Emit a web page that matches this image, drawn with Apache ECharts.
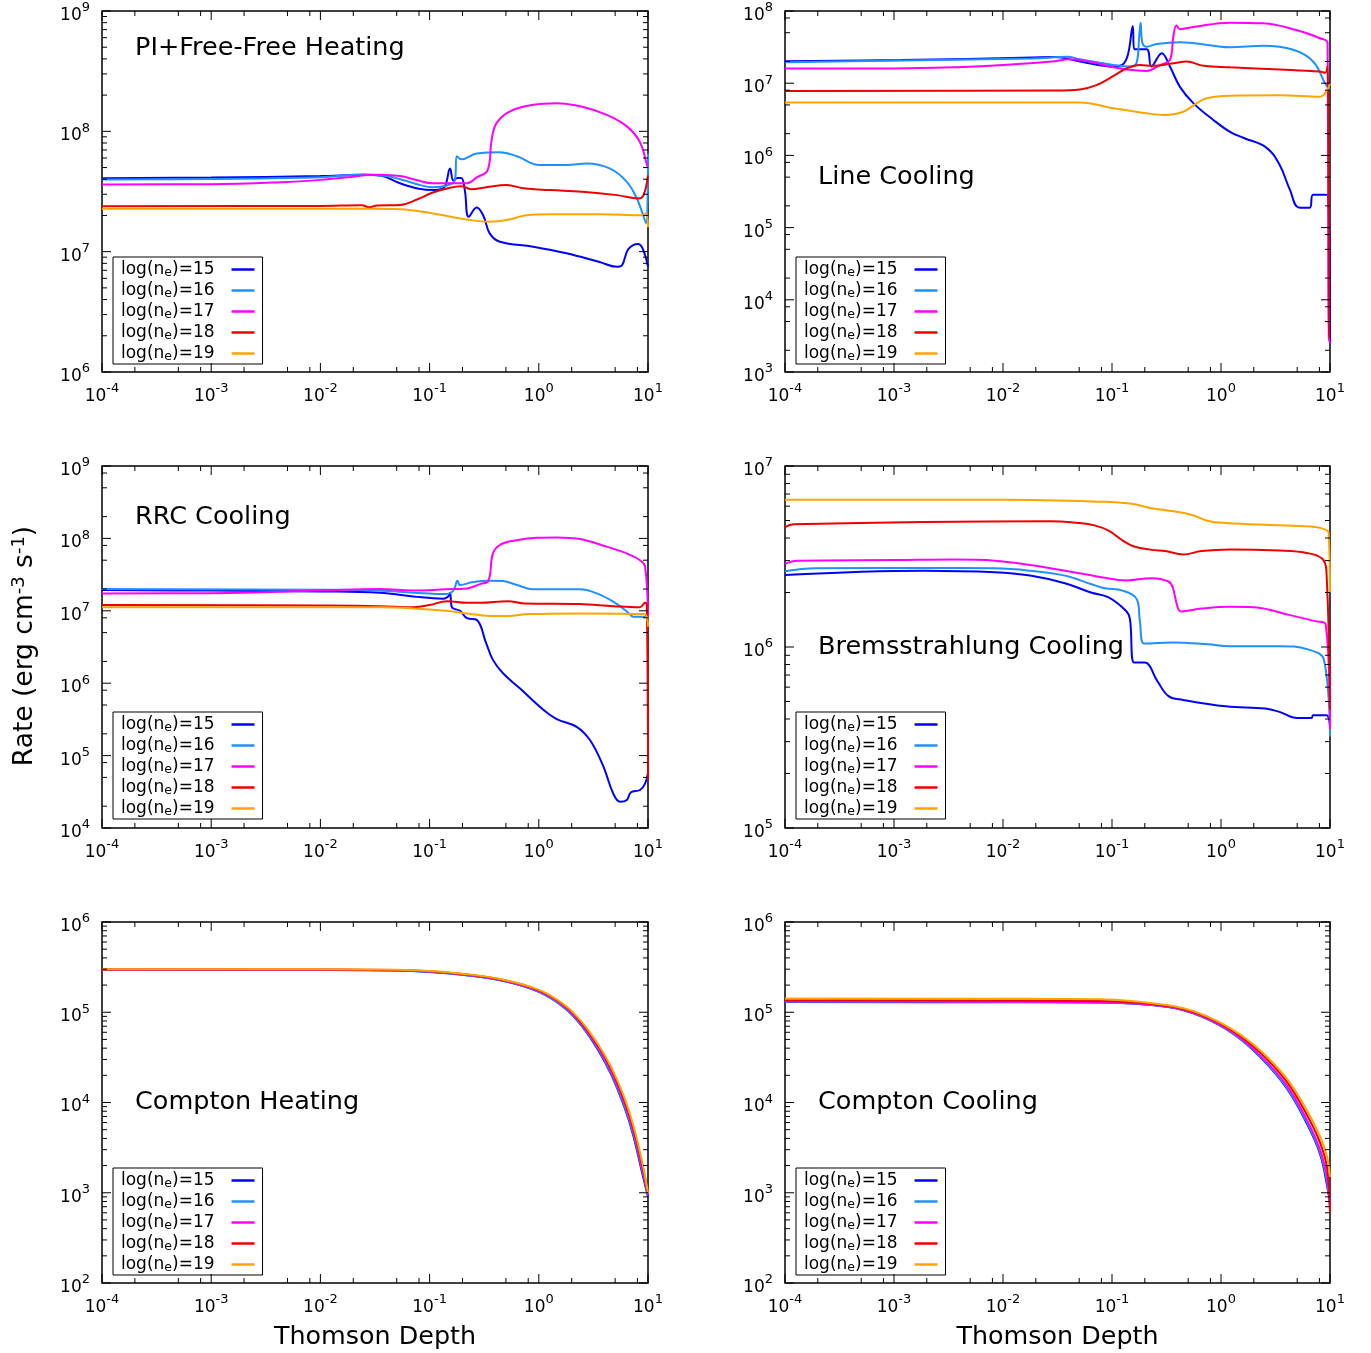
<!DOCTYPE html>
<html>
<head>
<meta charset="utf-8">
<script src="https://cdn.jsdelivr.net/npm/echarts@6/dist/echarts.min.js"></script>
<style>
html, body { margin: 0; padding: 0; background: #fff; }
#chart { width: 1371px; height: 1353px; }
</style>
</head>
<body>
<div id="chart"></div>
<script>
// series names and colours, one per electron density
const seriesNames = ['log(n_e)=15', 'log(n_e)=16', 'log(n_e)=17', 'log(n_e)=18', 'log(n_e)=19'];
const seriesColors = ['#0000ff', '#1e90ff', '#ff00ff', '#ee0000', '#ffa500'];

const tauRange = [1e-4, 10];
const sparseMinor = [2, 5, 8];
const fullMinor = [2, 3, 4, 5, 6, 7, 8, 9];

// PI + free-free heating, [tau, rate]
const piff15 = [[1e-4,4.08e7],[1e-3,4.13e7],[0.01,4.25e7],[0.025,4.36e7],[0.035,4.3e7],[0.0536,3.7e7],[0.08,3.33e7],[0.107,3.25e7],[0.135,3.4e7],[0.154,4.9e7],[0.165,3.9e7],[0.18,4.1e7],[0.195,4.1e7],[0.21,3.25e7],[0.228,1.95e7],[0.27,2.33e7],[0.31,2.0e7],[0.355,1.42e7],[0.44,1.21e7],[0.89,1.1e7],[1.79,9.7e6],[3.6,8.2e6],[5.2,7.5e6],[5.77,7.7e6],[6.6,1.05e7],[8.1,1.16e7],[8.9,1.07e7],[10,7.5e6]];
const piff16 = [[1e-4,3.98e7],[1e-3,4.02e7],[0.01,4.15e7],[0.025,4.38e7],[0.04,4.25e7],[0.0536,4.0e7],[0.08,3.6e7],[0.107,3.43e7],[0.144,3.55e7],[0.17,3.9e7],[0.178,6.2e7],[0.195,5.85e7],[0.27,6.55e7],[0.44,6.7e7],[0.63,6.2e7],[1.02,5.25e7],[1.79,5.25e7],[2.75,5.4e7],[4.5,4.9e7],[6.4,3.8e7],[8.0,2.7e7],[9.6,1.72e7],[10,6.5e7]];
const piff17 = [[1e-4,3.62e7],[1e-3,3.64e7],[0.005,3.8e7],[0.01,3.95e7],[0.02,4.2e7],[0.03,4.35e7],[0.0536,4.25e7],[0.0756,3.94e7],[0.107,3.7e7],[0.22,3.7e7],[0.27,4.14e7],[0.34,4.77e7],[0.37,8.5e7],[0.41,1.17e8],[0.54,1.46e8],[0.89,1.66e8],[1.45,1.71e8],[2.5,1.6e8],[4.2,1.37e8],[6.4,1.1e8],[8.4,8.2e7],[9.8,5.25e7],[10,5.0e7]];
const piff18 = [[1e-4,2.39e7],[0.01,2.4e7],[0.024,2.43e7],[0.028,2.34e7],[0.033,2.42e7],[0.0536,2.44e7],[0.0756,2.7e7],[0.107,3.1e7],[0.154,3.4e7],[0.195,3.5e7],[0.24,3.3e7],[0.33,3.43e7],[0.51,3.58e7],[0.72,3.36e7],[1.27,3.25e7],[2.5,3.15e7],[5.2,2.95e7],[8.2,2.77e7],[9.1,2.95e7],[10,4.3e7]];
const piff19 = [[1e-4,2.27e7],[0.03,2.27e7],[0.0536,2.25e7],[0.107,2.08e7],[0.22,1.85e7],[0.355,1.77e7],[0.51,1.83e7],[0.77,2.01e7],[1.27,2.05e7],[3.6,2.05e7],[9.0,2.01e7],[9.6,2.1e7],[10,1.6e7]];

// line cooling
const line15 = [[1e-4,2.02e7],[1.15e-3,2.09e7],[0.0187,2.27e7],[0.0298,2.3e7],[0.0508,2.0e7],[0.103,1.7e7],[0.127,1.85e7],[0.141,2.6e7],[0.155,6.2e7],[0.16,2.95e7],[0.208,2.95e7],[0.23,1.7e7],[0.286,2.6e7],[0.34,1.7e7],[0.42,8.9e6],[0.557,5.3e6],[0.85,3.1e6],[1.22,2.1e6],[1.62,1.74e6],[2.57,1.3e6],[3.4,7.7e5],[4.3,3.3e5],[5.16,1.9e5],[6.5,1.88e5],[7.0,2.85e5],[9.0,2.85e5],[9.6,2.8e5],[10,2.5e3]];
const line16 = [[1e-4,1.95e7],[0.0187,2.2e7],[0.039,2.32e7],[0.0508,2.14e7],[0.103,1.79e7],[0.145,1.7e7],[0.168,1.9e7],[0.178,4.65e7],[0.183,6.9e7],[0.19,3.6e7],[0.208,3.2e7],[0.257,3.5e7],[0.42,3.7e7],[0.85,3.3e7],[1.21,3.15e7],[2.45,3.3e7],[4.6,2.9e7],[7.0,2.0e7],[9.0,1.0e7],[10,8.0e6]];
const line17 = [[1e-4,1.6e7],[0.001,1.6e7],[0.005,1.69e7],[0.01,1.78e7],[0.03,2.02e7],[0.04,2.14e7],[0.0508,2.1e7],[0.075,1.88e7],[0.103,1.66e7],[0.208,1.48e7],[0.275,1.78e7],[0.34,2.1e7],[0.365,4.4e7],[0.39,6.3e7],[0.42,5.6e7],[0.557,6.0e7],[1.21,6.9e7],[2.45,6.75e7],[4.9,5.45e7],[8.1,4.2e7],[9.5,3.6e7],[9.75,3e3],[10,2.5e3]];
const line18 = [[1e-4,7.8e6],[0.03,7.9e6],[0.0508,8.2e6],[0.072,9.4e6],[0.103,1.26e7],[0.136,1.6e7],[0.18,1.79e7],[0.24,1.74e7],[0.365,1.89e7],[0.484,2.0e7],[0.69,1.74e7],[1.21,1.66e7],[3.5,1.55e7],[8.1,1.45e7],[9.0,1.4e7],[9.5,1.7e7],[9.8,3e3],[10,3e3]];
const line19 = [[1e-4,5.4e6],[0.03,5.4e6],[0.0508,5.4e6],[0.103,4.5e6],[0.208,3.83e6],[0.295,3.63e6],[0.45,4.03e6],[0.6,5.3e6],[0.74,6.2e6],[1.21,6.7e6],[3.5,6.8e6],[8.1,6.5e6],[9.4,8.0e6],[10,1.0e7]];

// RRC cooling
const rrc15 = [[1e-4,1.94e7],[0.001,1.9e7],[0.01,1.85e7],[0.035,1.78e7],[0.071,1.58e7],[0.133,1.47e7],[0.148,1.58e7],[0.154,1.78e7],[0.16,1.12e7],[0.19,1.0e7],[0.22,7.9e6],[0.27,7.5e6],[0.33,3.55e6],[0.38,2.1e6],[0.47,1.37e6],[0.67,8.5e5],[1.1,4.3e5],[1.46,3.2e5],[2.22,2.5e5],[2.94,1.64e5],[3.9,7.1e4],[4.8,3.0e4],[5.55,2.3e4],[6.4,2.44e4],[6.95,3.1e4],[8.45,3.35e4],[9.4,4.1e4],[10,5.8e4]];
const rrc16 = [[1e-4,2.0e7],[0.01,1.95e7],[0.035,1.9e7],[0.071,1.78e7],[0.14,1.7e7],[0.165,1.9e7],[0.18,2.6e7],[0.19,2.27e7],[0.25,2.5e7],[0.36,2.6e7],[0.47,2.57e7],[0.63,2.27e7],[0.89,1.98e7],[1.56,1.98e7],[2.38,1.98e7],[3.4,1.74e7],[4.8,1.34e7],[6.4,9.8e6],[7.35,8.3e6],[9.4,8.3e6],[10,1.0e7]];
const rrc17 = [[1e-4,1.74e7],[0.001,1.75e7],[0.01,1.9e7],[0.035,2.0e7],[0.071,1.9e7],[0.14,1.98e7],[0.22,2.04e7],[0.29,2.34e7],[0.345,2.6e7],[0.38,6.2e7],[0.44,8.1e7],[0.585,9.3e7],[0.955,1.02e8],[1.46,1.03e8],[2.38,9.8e7],[4.17,7.7e7],[6.4,6.2e7],[8.45,5.0e7],[9.4,4.1e7],[10,8e6]];
const rrc18 = [[1e-4,1.2e7],[0.01,1.18e7],[0.035,1.16e7],[0.071,1.12e7],[0.1,1.2e7],[0.145,1.36e7],[0.22,1.29e7],[0.29,1.29e7],[0.52,1.36e7],[0.74,1.26e7],[2.38,1.24e7],[4.8,1.16e7],[8.45,1.12e7],[9.4,1.29e7],[9.75,1.2e7],[10,4.6e4]];
const rrc19 = [[1e-4,1.12e7],[0.01,1.12e7],[0.035,1.12e7],[0.071,1.08e7],[0.14,1.0e7],[0.22,9.2e6],[0.36,8.5e6],[0.52,8.5e6],[0.81,9.0e6],[2.38,9.2e6],[9.2,9.0e6],[10,6e6]];

// bremsstrahlung cooling
const brems15 = [[1e-4,2.5e6],[0.0019,2.64e6],[0.0084,2.59e6],[0.0177,2.48e6],[0.037,2.25e6],[0.064,2.0e6],[0.093,1.88e6],[0.135,1.58e6],[0.146,1.43e6],[0.16,8.2e5],[0.2,8.2e5],[0.26,6.5e5],[0.33,5.35e5],[0.45,5.1e5],[1.11,4.7e5],[2.55,4.57e5],[3.44,4.38e5],[5.0,4.05e5],[6.76,4.05e5],[7.0,4.2e5],[9.27,4.2e5],[10,3.56e5]];
const brems16 = [[1e-4,2.62e6],[1.9e-4,2.72e6],[0.0019,2.73e6],[0.0084,2.72e6],[0.0177,2.64e6],[0.037,2.48e6],[0.064,2.23e6],[0.086,2.11e6],[0.125,2.05e6],[0.17,1.82e6],[0.18,1.4e6],[0.197,1.045e6],[0.36,1.06e6],[0.76,1.035e6],[1.2,1.01e6],[3.44,1.01e6],[6.26,9.7e5],[8.8,8.5e5],[10,3.2e5]];
const brems17 = [[1e-4,2.88e6],[1.3e-4,3.0e6],[0.001,3.02e6],[0.0036,3.04e6],[0.0084,3.0e6],[0.0177,2.84e6],[0.037,2.64e6],[0.08,2.43e6],[0.135,2.33e6],[0.23,2.4e6],[0.33,2.3e6],[0.36,2.14e6],[0.4,1.66e6],[0.43,1.57e6],[0.66,1.63e6],[1.2,1.67e6],[2.0,1.66e6],[4.3,1.5e6],[7.3,1.39e6],[9.1,1.34e6],[10,3.5e5]];
const brems18 = [[1e-4,4.6e6],[1.2e-4,4.77e6],[0.026,4.95e6],[0.05,4.84e6],[0.069,4.7e6],[0.093,4.4e6],[0.125,3.88e6],[0.157,3.6e6],[0.23,3.44e6],[0.31,3.39e6],[0.45,3.24e6],[0.66,3.39e6],[1.2,3.46e6],[3.44,3.41e6],[6.26,3.3e6],[8.5,3.07e6],[9.27,2.63e6],[10,4.5e5]];
const brems19 = [[1e-4,6.5e6],[0.01,6.5e6],[0.08,6.35e6],[0.146,6.2e6],[0.247,5.8e6],[0.31,5.7e6],[0.524,5.4e6],[0.76,4.97e6],[1.11,4.84e6],[3.44,4.7e6],[7.3,4.6e6],[9.1,4.45e6],[9.7,4.3e6],[10,2.0e6]];

// Compton heating, sampled on one tau grid
const comphTau = [1e-4, 0.01, 0.05, 0.1, 0.2, 0.43, 0.98, 1.7, 2.44, 3.5, 4.64, 6.1, 7.3, 8.8, 10];
const comph15 = [2.95e5, 2.94e5, 2.9e5, 2.8e5, 2.6e5, 2.28e5, 1.7e5, 1.13e5, 7.2e4, 3.8e4, 2.0e4, 8.8e3, 4.4e3, 1.7e3, 9.0e2];
const comph16 = [2.96e5, 2.95e5, 2.91e5, 2.81e5, 2.61e5, 2.29e5, 1.71e5, 1.14e5, 7.3e4, 3.9e4, 2.05e4, 9.1e3, 4.6e3, 1.8e3, 9.3e2];
const comph17 = [2.97e5, 2.96e5, 2.92e5, 2.83e5, 2.63e5, 2.31e5, 1.74e5, 1.17e5, 7.5e4, 4.05e4, 2.15e4, 9.7e3, 4.9e3, 1.9e3, 9.5e2];
const comph18 = [2.98e5, 2.98e5, 2.94e5, 2.85e5, 2.65e5, 2.33e5, 1.77e5, 1.2e5, 7.75e4, 4.25e4, 2.3e4, 1.05e4, 5.3e3, 2.1e3, 1.0e3];
const comph19 = [2.99e5, 2.99e5, 2.95e5, 2.86e5, 2.67e5, 2.35e5, 1.79e5, 1.22e5, 7.98e4, 4.4e4, 2.42e4, 1.12e4, 5.7e3, 2.24e3, 1.0e3];

// Compton cooling
const compcTau = [1e-4, 0.01, 0.078, 0.318, 0.64, 1.3, 2.28, 4.0, 6.1, 8.1, 9.4, 10];
const compc15 = [1.3e5, 1.29e5, 1.28e5, 1.15e5, 9.1e4, 5.75e4, 3.2e4, 1.44e4, 5.9e3, 2.7e3, 1.2e3, 7.6e2];
const compc16 = [1.31e5, 1.3e5, 1.28e5, 1.15e5, 9.15e4, 5.8e4, 3.25e4, 1.47e4, 6.1e3, 2.8e3, 1.3e3, 7e2];
const compc17 = [1.32e5, 1.31e5, 1.29e5, 1.16e5, 9.25e4, 5.9e4, 3.35e4, 1.55e4, 6.5e3, 3.0e3, 1.45e3, 6.5e2];
const compc18 = [1.36e5, 1.35e5, 1.33e5, 1.18e5, 9.5e4, 6.15e4, 3.6e4, 1.7e4, 7.4e3, 3.6e3, 1.9e3, 6e2];
const compc19 = [1.42e5, 1.41e5, 1.39e5, 1.2e5, 9.7e4, 6.35e4, 3.8e4, 1.85e4, 8.3e3, 4.2e3, 2.5e3, 1.5e3];

const zip = (xs, ys) => xs.map((x, i) => [x, ys[i]]);

const panels = [
    { title: 'PI+Free-Free Heating', yRange: [1e6, 1e9], yMinor: fullMinor, lines: [piff15, piff16, piff17, piff18, piff19],
      grid: { left: 102, top: 11, width: 546, height: 361 }, titlePos: [135, 48] },
    { title: 'Line Cooling', yRange: [1e3, 1e8], yMinor: sparseMinor, lines: [line15, line16, line17, line18, line19],
      grid: { left: 785, top: 11, width: 545, height: 361 }, titlePos: [818, 177] },
    { title: 'RRC Cooling', yRange: [1e4, 1e9], yMinor: sparseMinor, lines: [rrc15, rrc16, rrc17, rrc18, rrc19],
      grid: { left: 102, top: 466, width: 546, height: 362 }, titlePos: [135, 517] },
    { title: 'Bremsstrahlung Cooling', yRange: [1e5, 1e7], yMinor: fullMinor, lines: [brems15, brems16, brems17, brems18, brems19],
      grid: { left: 785, top: 466, width: 545, height: 362 }, titlePos: [818, 647] },
    { title: 'Compton Heating', yRange: [1e2, 1e6], yMinor: fullMinor,
      lines: [comph15, comph16, comph17, comph18, comph19].map(v => zip(comphTau, v)),
      grid: { left: 102, top: 922, width: 546, height: 361 }, titlePos: [135, 1102], xName: true },
    { title: 'Compton Cooling', yRange: [1e2, 1e6], yMinor: fullMinor,
      lines: [compc15, compc16, compc17, compc18, compc19].map(v => zip(compcTau, v)),
      grid: { left: 785, top: 922, width: 545, height: 361 }, titlePos: [818, 1102], xName: true }
];

const FONT = 'DejaVu Sans';
const powRich = {
    b: { fontSize: 17, fontFamily: FONT, color: '#000', padding: [9, 0, 0, 0] },
    s: { fontSize: 13, fontFamily: FONT, color: '#000', padding: [0, 0, 6, 0] }
};
const powLabel = v => '{b|10}{s|' + Math.round(Math.log10(v)) + '}';

// decade ticks (long) and minor ticks (short) for a log range
function logTicks(range, mults) {
    const lo = Math.round(Math.log10(range[0]));
    const hi = Math.round(Math.log10(range[1]));
    const out = [];
    for (let e = lo; e <= hi; e++) {
        out.push([Math.pow(10, e), 9]);
        if (e < hi) mults.forEach(m => out.push([m * Math.pow(10, e), 5]));
    }
    return out;
}

const tickStyle = { stroke: '#000', lineWidth: 1 };

function xTickSeries(i, yr) {
    return {
        type: 'custom', xAxisIndex: i, yAxisIndex: i, silent: true, clip: false, z: 6,
        encode: { x: 0, y: 1 },
        data: logTicks(tauRange, sparseMinor).map(([v, len]) => [v, yr[0], len, yr[1]]),
        renderItem: (params, api) => {
            const b = api.coord([api.value(0), api.value(1)]);
            const t = api.coord([api.value(0), api.value(3)]);
            const len = api.value(2);
            return { type: 'group', children: [
                { type: 'line', shape: { x1: b[0], y1: b[1], x2: b[0], y2: b[1] - len }, style: tickStyle },
                { type: 'line', shape: { x1: t[0], y1: t[1], x2: t[0], y2: t[1] + len }, style: tickStyle }
            ] };
        }
    };
}

function yTickSeries(i, yr, mults) {
    return {
        type: 'custom', xAxisIndex: i, yAxisIndex: i, silent: true, clip: false, z: 6,
        encode: { x: 0, y: 1 },
        data: logTicks(yr, mults).map(([v, len]) => [tauRange[0], v, len, tauRange[1]]),
        renderItem: (params, api) => {
            const l = api.coord([api.value(0), api.value(1)]);
            const r = api.coord([api.value(3), api.value(1)]);
            const len = api.value(2);
            return { type: 'group', children: [
                { type: 'line', shape: { x1: l[0], y1: l[1], x2: l[0] + len, y2: l[1] }, style: tickStyle },
                { type: 'line', shape: { x1: r[0], y1: r[1], x2: r[0] - len, y2: r[1] }, style: tickStyle }
            ] };
        }
    };
}

const grids = [], xAxes = [], yAxes = [], series = [], legends = [], graphics = [];

panels.forEach((p, i) => {
    grids.push(Object.assign({ show: true, borderColor: '#000', borderWidth: 1.5, backgroundColor: 'transparent' }, p.grid));
    xAxes.push({
        type: 'log', logBase: 10, gridIndex: i, min: tauRange[0], max: tauRange[1],
        axisLine: { show: false }, axisTick: { show: false }, splitLine: { show: false },
        axisLabel: { formatter: powLabel, rich: powRich, margin: 7, showMinLabel: true, showMaxLabel: true },
        name: p.xName ? 'Thomson Depth' : '', nameLocation: 'middle', nameGap: 42,
        nameTextStyle: { fontSize: 25.4, fontFamily: FONT, color: '#000' }
    });
    yAxes.push({
        type: 'log', logBase: 10, gridIndex: i, min: p.yRange[0], max: p.yRange[1],
        axisLine: { show: false }, axisTick: { show: false }, splitLine: { show: false },
        axisLabel: { formatter: powLabel, rich: powRich, margin: 12, showMinLabel: true, showMaxLabel: true }
    });
    p.lines.forEach((d, k) => {
        series.push({
            type: 'line', name: seriesNames[k], xAxisIndex: i, yAxisIndex: i,
            data: d, symbol: 'none', showSymbol: false, smooth: 0.4,
            color: seriesColors[k], lineStyle: { width: 2, color: seriesColors[k] },
            z: 3 + k * 0.1
        });
    });
    series.push(xTickSeries(i, p.yRange));
    series.push(yTickSeries(i, p.yRange, p.yMinor));
    legends.push({
        left: p.grid.left + 11, top: p.grid.top + 246,
        orient: 'vertical', align: 'right', icon: 'rect',
        itemWidth: 23, itemHeight: 2.5, itemGap: 2,
        padding: [3, 8, 1, 8],
        borderColor: '#000', borderWidth: 1, borderRadius: 0, backgroundColor: '#fff',
        selectedMode: false,
        data: seriesNames,
        formatter: n => n.replace('n_e', 'n{e|e}'),
        textStyle: {
            fontSize: 17, fontFamily: FONT, color: '#000', lineHeight: 16, padding: [0, 12, 0, 0],
            rich: { e: { fontSize: 12.5, fontFamily: FONT, color: '#000', lineHeight: 12, padding: [6, 0, 0, 0] } }
        }
    });
    graphics.push({
        type: 'text', x: p.titlePos[0], y: p.titlePos[1], z: 10,
        style: { text: p.title, fontSize: 25.5, fontFamily: FONT, fill: '#000', verticalAlign: 'middle' }
    });
});

graphics.push({
    type: 'text', x: 25, y: 646, rotation: Math.PI / 2, z: 10,
    style: {
        text: '{a|Rate (erg cm}{s|-3}{a| s}{s|-1}{a|)}',
        align: 'center', verticalAlign: 'middle',
        rich: {
            a: { fontSize: 26.5, fontFamily: FONT, fill: '#000' },
            s: { fontSize: 18, fontFamily: FONT, fill: '#000', padding: [0, 0, 12, 0] }
        }
    }
});

const chart = echarts.init(document.getElementById('chart'), null, { renderer: 'canvas' });
chart.setOption({
    animation: false,
    backgroundColor: '#fff',
    textStyle: { fontFamily: FONT },
    grid: grids,
    xAxis: xAxes,
    yAxis: yAxes,
    legend: legends,
    graphic: graphics,
    series: series
});
</script>
</body>
</html>
